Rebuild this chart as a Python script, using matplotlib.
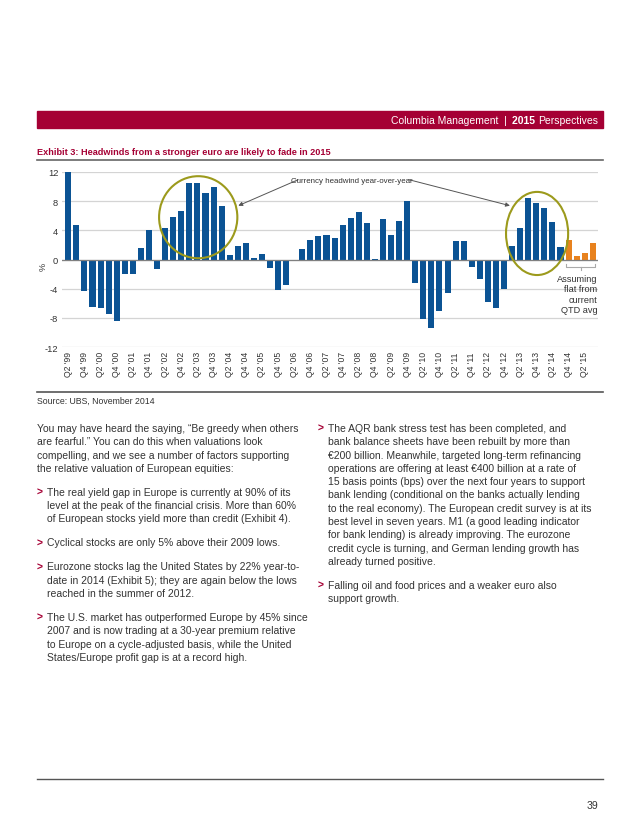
import matplotlib
matplotlib.use("Agg")
import matplotlib.pyplot as plt
from matplotlib import font_manager
from matplotlib.patches import Ellipse, Rectangle
import numpy as np

# quarterly year-over-year currency effect, Q2 '99 onwards (%)
actual_values = [12.0, 4.7, -4.3, -6.5, -6.7, -7.5, -8.5, -2.0, -2.0, 1.6,
                 4.0, -1.3, 4.3, 5.8, 6.7, 10.5, 10.5, 9.1, 10.0, 7.4,
                 0.6, 1.9, 2.2, 0.2, 0.7, -1.1, -4.2, -3.5, -0.2, 1.5,
                 2.7, 3.2, 3.4, 3.0, 4.8, 5.7, 6.5, 5.0, 0.1, 5.5,
                 3.4, 5.3, 8.0, -3.2, -8.2, -9.4, -7.1, -4.6, 2.6, 2.6,
                 -1.0, -2.7, -5.8, -6.7, -4.1, 1.8, 4.3, 8.5, 7.8, 7.0,
                 5.2, 1.7]
# assuming flat from current QTD avg
projected_values = [2.7, 0.5, 0.9, 2.2]

tick_labels = ["Q2 '99", "Q4 '99", "Q2 '00", "Q4 '00", "Q2 '01", "Q4 '01",
               "Q2 '02", "Q4 '02", "Q2 '03", "Q4 '03", "Q2 '04", "Q4 '04",
               "Q2 '05", "Q4 '05", "Q2 '06", "Q4 '06", "Q2 '07", "Q4 '07",
               "Q2 '08", "Q4 '08", "Q2 '09", "Q4 '09", "Q2 '10", "Q4 '10",
               "Q2 '11", "Q4 '11", "Q2 '12", "Q4 '12", "Q2 '13", "Q4 '13",
               "Q2 '14", "Q4 '14", "Q2 '15"]
y_ticks = [12, 8, 4, 0, -4, -8, -12]

MAROON = "#a50034"
BLUE = "#0b5394"
ORANGE = "#e8821e"
OLIVE = "#9c9a1c"
TEXT = "#333333"

installed = {f.name for f in font_manager.fontManager.ttflist}
NARROW = "Liberation Sans Narrow" if "Liberation Sans Narrow" in installed else "Liberation Sans"
BODY = "Liberation Sans"

W, H = 640, 828
fig = plt.figure(figsize=(W / 100, H / 100), dpi=100)
renderer = fig.canvas.get_renderer()


def fx(x):
    return x / W


def fy(y):
    return 1 - y / H


def page_text(x, y, s, **kw):
    kw.setdefault("family", BODY)
    kw.setdefault("color", TEXT)
    kw.setdefault("va", "center")
    return fig.text(fx(x), fy(y), s, **kw)


# header band
fig.patches.append(Rectangle((fx(37), fy(129)), fx(603) - fx(37), fy(112) - fy(129),
                             transform=fig.transFigure, color=MAROON, zorder=0))
x_right = 598
for part, wt in [("Perspectives", "normal"), ("2015 ", "bold"), ("Columbia Management  |  ", "normal")]:
    t = page_text(x_right, 121, part, ha="right", color="white", fontsize=7.5, weight=wt)
    x_right -= t.get_window_extent(renderer).width

# exhibit title
page_text(37, 153, "Exhibit 3: Headwinds from a stronger euro are likely to fade in 2015",
          color=MAROON, fontsize=6.6, weight="bold")
fig.add_artist(plt.Line2D([fx(37), fx(603)], [fy(161), fy(161)], color="#666666", lw=1.2))
fig.add_artist(plt.Line2D([fx(37), fx(603)], [fy(393), fy(393)], color="#555555", lw=1.2))

# chart
ax = fig.add_axes([fx(61.7), fy(348), fx(598) - fx(61.7), fy(173) - fy(348)])
n_act = len(actual_values)
x_act = np.arange(n_act)
x_proj = np.arange(n_act, n_act + len(projected_values))
ax.bar(x_act, actual_values, width=0.75, color=BLUE, zorder=3)
ax.bar(x_proj, projected_values, width=0.75, color=ORANGE, zorder=3)

ax.set_xlim(-0.82, 65.65)
ax.set_ylim(-12, 12)
ax.set_yticks(y_ticks)
ax.set_yticklabels([str(v) for v in y_ticks], family=BODY, fontsize=6.7, color=TEXT)
ax.set_xticks(np.arange(0, 2 * len(tick_labels), 2))
ax.set_xticklabels(tick_labels, rotation=90, family=NARROW, fontsize=6.2, color=TEXT)
ax.tick_params(length=0, axis="y", pad=2.5)
ax.tick_params(length=0, axis="x", pad=3)
for s in ax.spines.values():
    s.set_visible(False)
ax.grid(axis="y", color="#d4d4d4", lw=0.9, zorder=0)
ax.axhline(0, color="#808080", lw=0.9, zorder=4)
page_text(43, 267, "%", rotation=90, ha="center", fontsize=6.5)

# highlight ellipses
ax.add_patch(Ellipse((16.1, 5.8), 9.7, 11.25, fill=False, ec=OLIVE, lw=1.5, zorder=5, clip_on=False))
ax.add_patch(Ellipse((58.1, 3.57), 7.7, 11.4, fill=False, ec=OLIVE, lw=1.5, zorder=5, clip_on=False))

ax.text(35.15, 10.9, "Currency headwind year-over-year", ha="center", va="center",
        family=NARROW, fontsize=5.7, color=TEXT, zorder=6)
arrow = dict(arrowstyle="-|>", color="#555555", lw=0.7, mutation_scale=6, shrinkA=0, shrinkB=0)
ax.annotate("", xy=(21.07, 7.38), xytext=(28.5, 10.95), arrowprops=arrow)
ax.annotate("", xy=(54.73, 7.38), xytext=(42.2, 10.95), arrowprops=arrow)

# bracket over projected bars
ax.plot([61.7, 61.7, 65.3, 65.3], [-0.55, -1.0, -1.0, -0.55], color="#aaaaaa", lw=0.8, clip_on=False)
ax.plot([63.5, 63.5], [-1.0, -1.5], color="#aaaaaa", lw=0.8, clip_on=False)
ax.text(65.55, -1.95, "Assuming\nflat from\ncurrent\nQTD avg", ha="right", va="top",
        family=NARROW, fontsize=6.6, color=TEXT, linespacing=1.22, zorder=6)

page_text(37, 401, "Source: UBS, November 2014", fontsize=6.3)

# body text
LS = 13.3
FS = 7.45


def para(x, y, lines, bullet=False):
    if bullet:
        page_text(x, y, ">", color=MAROON, fontsize=FS, weight="bold")
        x += 10
    for i, ln in enumerate(lines):
        page_text(x, y + i * LS, ln, fontsize=FS)
    return y + len(lines) * LS + 10.7


y = 429
y = para(37, y, ["You may have heard the saying, \u201cBe greedy when others",
                 "are fearful.\u201d You can do this when valuations look",
                 "compelling, and we see a number of factors supporting",
                 "the relative valuation of European equities:"])
y = para(37, y, ["The real yield gap in Europe is currently at 90% of its",
                 "level at the peak of the financial crisis. More than 60%",
                 "of European stocks yield more than credit (Exhibit 4)."], True)
y = para(37, y, ["Cyclical stocks are only 5% above their 2009 lows."], True)
y = para(37, y, ["Eurozone stocks lag the United States by 22% year-to-",
                 "date in 2014 (Exhibit 5); they are again below the lows",
                 "reached in the summer of 2012."], True)
y = para(37, y, ["The U.S. market has outperformed Europe by 45% since",
                 "2007 and is now trading at a 30-year premium relative",
                 "to Europe on a cycle-adjusted basis, while the United",
                 "States/Europe profit gap is at a record high."], True)

y = 429
y = para(318, y, ["The AQR bank stress test has been completed, and",
                  "bank balance sheets have been rebuilt by more than",
                  "\u20ac200 billion. Meanwhile, targeted long-term refinancing",
                  "operations are offering at least \u20ac400 billion at a rate of",
                  "15 basis points (bps) over the next four years to support",
                  "bank lending (conditional on the banks actually lending",
                  "to the real economy). The European credit survey is at its",
                  "best level in seven years. M1 (a good leading indicator",
                  "for bank lending) is already improving. The eurozone",
                  "credit cycle is turning, and German lending growth has",
                  "already turned positive."], True)
y = para(318, y, ["Falling oil and food prices and a weaker euro also",
                  "support growth."], True)

# footer
fig.add_artist(plt.Line2D([fx(37), fx(603)], [fy(780), fy(780)], color="#555555", lw=1.0))
page_text(598, 806, "39", ha="right", fontsize=7.6)

fig.savefig("out.png", dpi=100)
